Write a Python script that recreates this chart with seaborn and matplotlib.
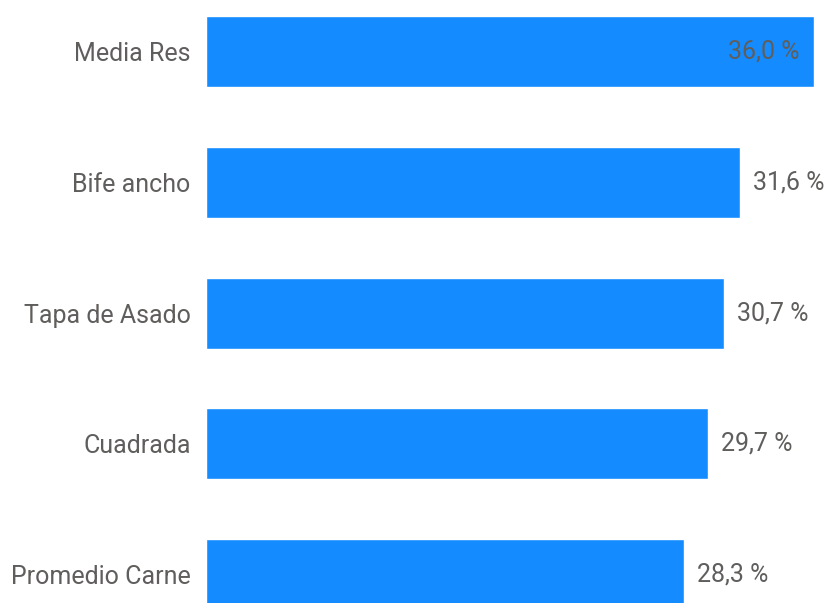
import matplotlib
matplotlib.use("Agg")
import matplotlib.pyplot as plt
import seaborn as sns
import pandas as pd

categories = ["Media Res", "Bife ancho", "Tapa de Asado", "Cuadrada", "Promedio Carne"]
values = [36.0, 31.6, 30.7, 29.7, 28.3]

df = pd.DataFrame({"cat": categories, "val": values})

sns.set_theme(style="white")
plt.rcParams["font.family"] = ["Roboto", "DejaVu Sans"]

W, H = 829, 603
fig = plt.figure(figsize=(W / 100, H / 100), dpi=100)
ax = fig.add_axes([206 / W, 0, (814 - 206) / W, 1])

bar_color = "#148CFF"
text_color = "#605E5C"

sns.barplot(data=df, y="cat", x="val", orient="h", color=bar_color,
            width=0.543, saturation=1, ax=ax)

ax.set_xlim(0, 36.0)
ax.set_ylim(4.218, -0.394)
ax.set_xlabel("")
ax.set_ylabel("")
ax.set_xticks([])
for s in ax.spines.values():
    s.set_visible(False)

ax.tick_params(axis="y", length=0, pad=11, labelsize=18, labelcolor=text_color)

for patch, v in zip(ax.patches, values):
    lbl = f"{v:.1f}".replace(".", ",") + " %"
    xend = patch.get_width()
    yc = patch.get_y() + patch.get_height() / 2
    if xend >= 35:
        ax.annotate(lbl, (xend, yc), xytext=(-14, 0), textcoords="offset pixels",
                    ha="right", va="center", fontsize=18, color=text_color)
    else:
        ax.annotate(lbl, (xend, yc), xytext=(13, 0), textcoords="offset pixels",
                    ha="left", va="center", fontsize=18, color=text_color,
                    annotation_clip=False)

fig.savefig("out.png", dpi=100)
